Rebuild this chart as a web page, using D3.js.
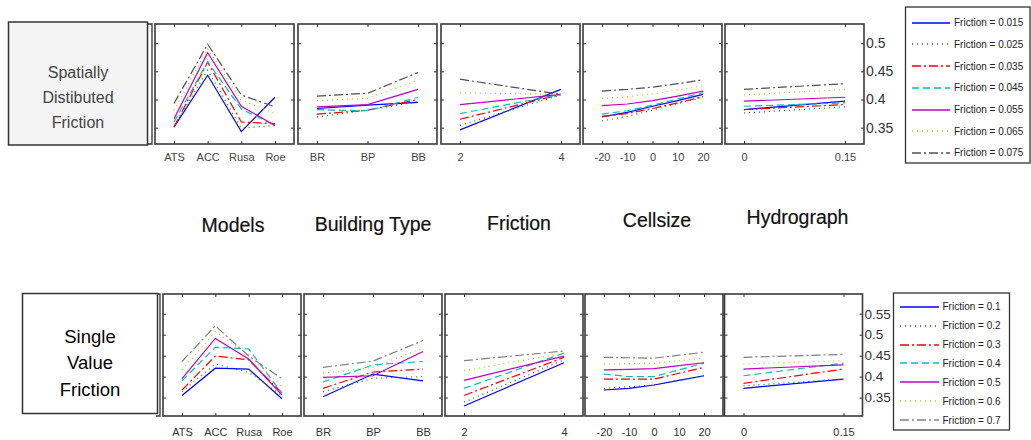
<!DOCTYPE html>
<html>
<head>
<meta charset="utf-8">
<script src="https://cdn.jsdelivr.net/npm/d3@7"></script>
<style>
  body { margin: 0; background: #fff; }
  svg { display: block; font-family: "Liberation Sans", Arial, Helvetica, sans-serif; }
</style>
</head>
<body>
<svg id="chart" width="1031" height="440"></svg>
<script>
// ---- x categories / values for the five sensitivity panels ----
const modelCats    = ["ATS", "ACC", "Rusa", "Roe"];
const buildingCats = ["BR", "BP", "BB"];
const frictionVals = [2, 4];
const cellsizeVals = [-20, -10, 0, 10, 20];
const hydroVals    = [0, 0.15];

const panelTitles = ["Models", "Building Type", "Friction", "Cellsize", "Hydrograph"];

const seriesTop    = ["Friction = 0.015", "Friction = 0.025", "Friction = 0.035", "Friction = 0.045",
                      "Friction = 0.055", "Friction = 0.065", "Friction = 0.075"];
const seriesBottom = ["Friction = 0.1", "Friction = 0.2", "Friction = 0.3", "Friction = 0.4",
                      "Friction = 0.5", "Friction = 0.6", "Friction = 0.7"];

const yTicksTop    = [0.35, 0.4, 0.45, 0.5];
const yTicksBottom = [0.35, 0.4, 0.45, 0.5, 0.55];

// ---- spatially distributed friction (one row per friction series) ----
const sdModels = [
  [0.351, 0.443, 0.343, 0.404],
  [0.352, 0.452, 0.349, 0.354],
  [0.351, 0.466, 0.360, 0.357],
  [0.360, 0.467, 0.383, 0.354],
  [0.366, 0.483, 0.388, 0.354],
  [0.381, 0.490, 0.399, 0.375],
  [0.393, 0.498, 0.408, 0.387]
];
const sdBuilding = [
  [0.384, 0.390, 0.395],
  [0.369, 0.381, 0.396],
  [0.374, 0.381, 0.400],
  [0.382, 0.380, 0.404],
  [0.387, 0.391, 0.418],
  [0.398, 0.402, 0.434],
  [0.406, 0.411, 0.448]
];
const sdFriction = [
  [0.346, 0.418],
  [0.354, 0.408],
  [0.365, 0.409],
  [0.375, 0.409],
  [0.391, 0.409],
  [0.412, 0.409],
  [0.436, 0.409]
];
const sdCellsize = [
  [0.369, 0.377, 0.388, 0.398, 0.409],
  [0.362, 0.370, 0.381, 0.393, 0.404],
  [0.370, 0.375, 0.384, 0.394, 0.405],
  [0.374, 0.380, 0.390, 0.401, 0.412],
  [0.389, 0.392, 0.398, 0.406, 0.415],
  [0.402, 0.405, 0.410, 0.417, 0.424],
  [0.415, 0.418, 0.422, 0.428, 0.435]
];
const sdHydro = [
  [0.382, 0.397],
  [0.376, 0.387],
  [0.382, 0.391],
  [0.388, 0.394],
  [0.397, 0.404],
  [0.408, 0.418],
  [0.418, 0.428]
];

// ---- single value friction ----
const svModels = [
  [0.355, 0.420, 0.418, 0.347],
  [0.364, 0.430, 0.410, 0.355],
  [0.368, 0.449, 0.440, 0.361],
  [0.390, 0.470, 0.466, 0.360],
  [0.395, 0.491, 0.442, 0.356],
  [0.416, 0.507, 0.452, 0.376],
  [0.436, 0.521, 0.449, 0.395]
];
const svBuilding = [
  [0.352, 0.406, 0.390],
  [0.364, 0.396, 0.400],
  [0.372, 0.411, 0.418],
  [0.387, 0.428, 0.436],
  [0.398, 0.402, 0.460],
  [0.408, 0.422, 0.468],
  [0.422, 0.437, 0.486]
];
const svFriction = [
  [0.330, 0.433],
  [0.339, 0.440],
  [0.355, 0.446],
  [0.372, 0.456],
  [0.391, 0.449],
  [0.414, 0.456],
  [0.438, 0.461]
];
const svCellsize = [
  [0.368, 0.372, 0.380, 0.391, 0.402],
  [0.372, 0.376, 0.380, 0.391, 0.402],
  [0.394, 0.394, 0.394, 0.408, 0.422],
  [0.406, 0.400, 0.400, 0.416, 0.432],
  [0.416, 0.417, 0.419, 0.426, 0.433],
  [0.430, 0.431, 0.432, 0.438, 0.444],
  [0.446, 0.445, 0.444, 0.451, 0.458]
];
const svHydro = [
  [0.372, 0.394],
  [0.378, 0.394],
  [0.384, 0.418],
  [0.402, 0.432],
  [0.418, 0.428],
  [0.430, 0.438],
  [0.446, 0.453]
];

// ---- line styles (MATLAB-like b-, g:, r-., c--, m-, y:, k-.) ----
const colorsTop    = ["#0000ff", "#008000", "#ff0000", "#00bfbf", "#bf00bf", "#bfbf00", "#505050"];
const colorsBottom = ["#0000ff", "#008000", "#ff0000", "#00bfbf", "#bf00bf", "#bfbf00", "#808080"];
const dashes = [null, "1,4", "9,3,2,3", "7,4", null, "1,4", "9,3,2,3"];

const svg = d3.select("#chart");

function drawRow(cfg) {
  const xSpecs = [
    { scale: d3.scalePoint().domain(modelCats), vals: modelCats, ticks: modelCats },
    { scale: d3.scalePoint().domain(buildingCats), vals: buildingCats, ticks: buildingCats },
    { scale: d3.scaleLinear().domain(d3.extent(frictionVals)), vals: frictionVals, ticks: frictionVals },
    { scale: d3.scaleLinear().domain(d3.extent(cellsizeVals)), vals: cellsizeVals, ticks: cellsizeVals },
    { scale: d3.scaleLinear().domain(d3.extent(hydroVals)), vals: hydroVals, ticks: hydroVals }
  ];
  const top = cfg.top, h = cfg.height, bottom = top + h;
  const y = d3.scaleLinear().domain(cfg.yDomain).range([bottom, top]);

  cfg.lefts.forEach((left, p) => {
    const w = cfg.width;
    const spec = xSpecs[p];
    const x = spec.scale.range([left + cfg.inset, left + w - cfg.inset]);
    const g = svg.append("g");

    g.append("rect")
      .attr("x", left).attr("y", top).attr("width", w).attr("height", h)
      .attr("fill", "#fff");

    // inward tick marks on all four sides
    const xb = d3.axisBottom(x).tickValues(spec.ticks).tickSize(-3).tickPadding(cfg.labelPad)
      .tickFormat(d => String(d));
    const xt = d3.axisTop(x).tickValues(spec.ticks).tickSize(-3).tickFormat("");
    const yl = d3.axisLeft(y).tickValues(cfg.yTicks).tickSize(-3).tickFormat("");
    const yr = d3.axisRight(y).tickValues(cfg.yTicks).tickSize(-3).tickFormat("");

    const gb = g.append("g").attr("transform", `translate(0,${bottom})`).call(xb);
    gb.selectAll("text").attr("font-size", 11).attr("fill", cfg.tickColor)
      .attr("font-family", "Liberation Sans, Arial, sans-serif");
    g.append("g").attr("transform", `translate(0,${top})`).call(xt);
    g.append("g").attr("transform", `translate(${left},0)`).call(yl);
    g.append("g").attr("transform", `translate(${left + w},0)`).call(yr);
    g.selectAll(".domain").remove();
    g.selectAll(".tick line").attr("stroke", "#333");

    // series lines
    const line = d3.line()
      .x((d, i) => x(spec.vals[i]))
      .y(d => y(d));
    cfg.data[p].forEach((vals, s) => {
      g.append("path")
        .attr("d", line(vals))
        .attr("fill", "none")
        .attr("stroke", cfg.colors[s])
        .attr("stroke-width", 1.2)
        .attr("stroke-dasharray", dashes[s]);
    });

    g.append("rect")
      .attr("x", left).attr("y", top).attr("width", w).attr("height", h)
      .attr("fill", "none").attr("stroke", "#3a3a3a").attr("stroke-width", 1.6);
  });

  // shared y axis labels on the right of the last panel
  const lastRight = cfg.lefts[cfg.lefts.length - 1] + cfg.width;
  const ya = d3.axisRight(y).tickValues(cfg.yTicks).tickSize(0).tickPadding(2)
    .tickFormat(d3.format(""));
  const gy = svg.append("g").attr("transform", `translate(${lastRight},0)`).call(ya);
  gy.select(".domain").remove();
  gy.selectAll("text").attr("font-size", cfg.yFont).attr("fill", "#333")
    .attr("font-family", "Liberation Sans, Arial, sans-serif");

  // left bracket next to the row label
  const bx = cfg.bracketX;
  svg.append("path")
    .attr("d", `M${bx - 4},${top} H${bx} V${bottom} H${bx - 4}`)
    .attr("fill", "none").attr("stroke", "#333").attr("stroke-width", 1.3);

  // row label box
  const lb = cfg.labelBox;
  svg.append("rect")
    .attr("x", lb.x).attr("y", lb.y).attr("width", lb.w).attr("height", lb.h)
    .attr("fill", lb.fill).attr("stroke", "#333").attr("stroke-width", 1.5);
  svg.append("g").selectAll("text").data(cfg.labelLines).join("text")
    .attr("x", lb.x + lb.w / 2)
    .attr("y", (d, i) => lb.firstBaseline + i * lb.lineGap)
    .attr("text-anchor", "middle")
    .attr("font-size", lb.fontSize)
    .attr("fill", lb.color)
    .text(d => d);

  // legend
  const L = cfg.legend;
  svg.append("rect")
    .attr("x", L.x).attr("y", L.y).attr("width", L.w).attr("height", L.h)
    .attr("fill", "#fff").attr("stroke", "#333").attr("stroke-width", 1.3);
  cfg.series.forEach((name, s) => {
    const cy = L.firstY + s * L.step;
    const ly = Math.round(cy);
    svg.append("line")
      .attr("x1", L.lineX1).attr("x2", L.lineX2).attr("y1", ly).attr("y2", ly)
      .attr("stroke", cfg.colors[s]).attr("stroke-width", 1.5)
      .attr("stroke-dasharray", dashes[s]);
    svg.append("text")
      .attr("x", L.textX).attr("y", cy).attr("dy", "0.35em")
      .attr("font-size", 10).attr("fill", "#222")
      .text(name);
  });
}

drawRow({
  top: 24, height: 120, width: 139, inset: 19,
  lefts: [155, 298, 441, 583, 725],
  yDomain: [0.321, 0.534], yTicks: yTicksTop, yFont: 14,
  data: [sdModels, sdBuilding, sdFriction, sdCellsize, sdHydro],
  colors: colorsTop, series: seriesTop,
  labelPad: 9, tickColor: "#444",
  bracketX: 152,
  labelBox: { x: 8.5, y: 22, w: 139, h: 123, fill: "#f4f4f4", fontSize: 16, color: "#444",
              firstBaseline: 78, lineGap: 25 },
  labelLines: ["Spatially", "Distibuted", "Friction"],
  legend: { x: 905.5, y: 7, w: 124.5, h: 156, firstY: 22.7, step: 21.7,
            lineX1: 912, lineX2: 950, textX: 954 }
});

drawRow({
  top: 294, height: 122, width: 138, inset: 19,
  lefts: [163, 304, 445, 585, 724.5],
  yDomain: [0.306, 0.597], yTicks: yTicksBottom, yFont: 13.5,
  data: [svModels, svBuilding, svFriction, svCellsize, svHydro],
  colors: colorsBottom, series: seriesBottom,
  labelPad: 12, tickColor: "#333",
  bracketX: 160,
  labelBox: { x: 22.5, y: 293.5, w: 135, h: 120, fill: "#fff", fontSize: 18.5, color: "#000",
              firstBaseline: 343, lineGap: 26.3 },
  labelLines: ["Single", "Value", "Friction"],
  legend: { x: 893.5, y: 293, w: 116, h: 137, firstY: 306.7, step: 18.9,
            lineX1: 900, lineX2: 939, textX: 942.5 }
});

// factor titles between the two rows
const titleCenters   = [233, 373, 519, 657, 797.5];
const titleBaselines = [232, 231, 230, 227, 224];
svg.append("g").selectAll("text").data(panelTitles).join("text")
  .attr("x", (d, i) => titleCenters[i])
  .attr("y", (d, i) => titleBaselines[i])
  .attr("text-anchor", "middle")
  .attr("font-size", 19.5)
  .attr("fill", "#111")
  .attr("stroke", "#111").attr("stroke-width", 0.2)
  .text(d => d);
</script>
</body>
</html>
